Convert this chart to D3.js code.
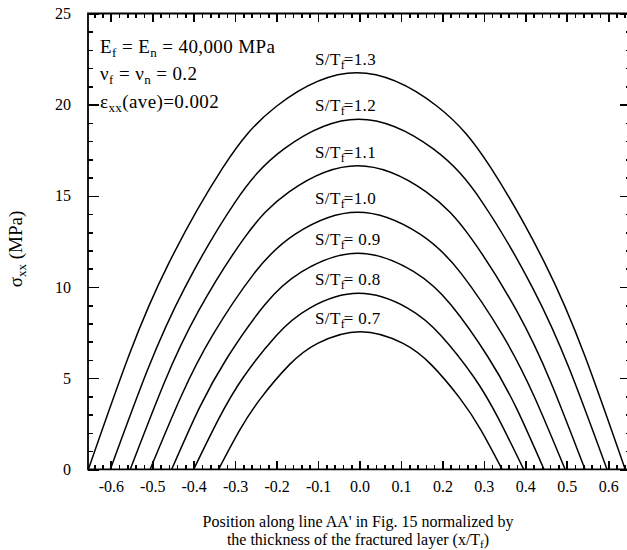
<!DOCTYPE html>
<html>
<head>
<meta charset="utf-8">
<script src="https://cdn.jsdelivr.net/npm/d3@7"></script>
<style>
  html, body { margin: 0; padding: 0; background: #fff; }
  svg { display: block; font-family: "Liberation Serif", "DejaVu Serif", serif; }
</style>
</head>
<body>
<svg id="chart" width="627" height="550"></svg>
<script>
// Stress profiles sigma_xx along line AA' for several crack spacings S/Tf
const spacingLabels = ["1.3", "1.2", "1.1", "1.0", " 0.9", " 0.8", " 0.7"];

// [x/Tf, sigma_xx (MPa)] pairs per spacing ratio
const profile13 = [[-0.654, 0], [-0.557, 6.20], [-0.460, 11.31], [-0.330, 16.53], [-0.201, 19.90], [-0.0065, 21.75], [0.188, 19.90], [0.317, 16.53], [0.447, 11.31], [0.544, 6.20], [0.641, 0]];
const profile12 = [[-0.601, 0], [-0.511, 5.47], [-0.421, 9.98], [-0.302, 14.59], [-0.182, 17.57], [-0.002, 19.20], [0.178, 17.57], [0.298, 14.59], [0.417, 9.98], [0.507, 5.47], [0.597, 0]];
const profile11 = [[-0.553, 0], [-0.471, 4.75], [-0.389, 8.66], [-0.279, 12.65], [-0.169, 15.23], [-0.0045, 16.65], [0.160, 15.23], [0.270, 12.65], [0.380, 8.66], [0.462, 4.75], [0.544, 0]];
const profile10 = [[-0.505, 0], [-0.430, 4.02], [-0.355, 7.33], [-0.255, 10.72], [-0.155, 12.90], [-0.0045, 14.10], [0.146, 12.90], [0.246, 10.72], [0.346, 7.33], [0.421, 4.02], [0.496, 0]];
const profile09 = [[-0.453, 0], [-0.386, 3.38], [-0.318, 6.16], [-0.229, 9.01], [-0.139, 10.84], [-0.004, 11.85], [0.131, 10.84], [0.221, 9.01], [0.310, 6.16], [0.378, 3.38], [0.445, 0]];
const profile08 = [[-0.400, 0], [-0.340, 2.75], [-0.281, 5.02], [-0.201, 7.33], [-0.121, 8.83], [-0.002, 9.65], [0.117, 8.83], [0.197, 7.33], [0.277, 5.02], [0.336, 2.75], [0.396, 0]];
const profile07 = [[-0.340, 0], [-0.289, 2.15], [-0.237, 3.93], [-0.169, 5.74], [-0.101, 6.91], [0.002, 7.55], [0.105, 6.91], [0.173, 5.74], [0.241, 3.93], [0.293, 2.15], [0.344, 0]];
const profiles = [profile13, profile12, profile11, profile10, profile09, profile08, profile07];

const xTickValues = [-0.6, -0.5, -0.4, -0.3, -0.2, -0.1, 0.0, 0.1, 0.2, 0.3, 0.4, 0.5, 0.6];
const yTickValues = [0, 5, 10, 15, 20, 25];

const svg = d3.select("#chart");
const plotLeft = 88, plotRight = 631, plotTop = 13.5, plotBottom = 469.3;

const x = d3.scaleLinear().domain([-0.655, 0.655]).range([plotLeft, plotRight]);
const y = d3.scaleLinear().domain([0, 25]).range([plotBottom, plotTop]);

const xMinor = d3.range(-64, 65, 2).filter(v => v % 10 !== 0).map(v => v / 100);
const yMinor = d3.range(0, 26, 1).filter(v => v % 5 !== 0);

// plot frame
svg.append("path")
  .attr("d", `M${plotLeft},${plotTop}H${plotRight}V${plotBottom}H${plotLeft}Z`)
  .attr("fill", "none")
  .attr("stroke", "#000")
  .attr("stroke-width", 1.8);

// axes: inward ticks on all four sides, labels on bottom and left
function styleAxis(g) {
  g.select(".domain").remove();
  g.selectAll(".tick line")
    .attr("stroke", "#000")
    .attr("stroke-width", 1.6)
    .attr("shape-rendering", "crispEdges");
  g.selectAll("text").attr("font-size", 16).attr("fill", "#000")
    .attr("font-family", "Liberation Serif");
}
function placeAxis(axis, tx, ty) {
  svg.append("g").attr("transform", `translate(${tx},${ty})`).call(axis).call(styleAxis);
}
const fmtX = d => d3.format(".1f")(d).replace("\u2212", "-");
placeAxis(d3.axisBottom(x).tickValues(xTickValues).tickSizeInner(-8).tickSizeOuter(0).tickPadding(11).tickFormat(fmtX), 0, plotBottom);
placeAxis(d3.axisBottom(x).tickValues(xMinor).tickSizeInner(-4.5).tickSizeOuter(0).tickFormat(""), 0, plotBottom);
placeAxis(d3.axisTop(x).tickValues(xTickValues).tickSizeInner(-8).tickSizeOuter(0).tickFormat(""), 0, plotTop);
placeAxis(d3.axisTop(x).tickValues(xMinor).tickSizeInner(-4.5).tickSizeOuter(0).tickFormat(""), 0, plotTop);
placeAxis(d3.axisLeft(y).tickValues(yTickValues).tickSizeInner(-11).tickSizeOuter(0).tickPadding(17), plotLeft, 0);
placeAxis(d3.axisLeft(y).tickValues(yMinor).tickSizeInner(-5).tickSizeOuter(0).tickFormat(""), plotLeft, 0);
placeAxis(d3.axisRight(y).tickValues(yTickValues).tickSizeInner(-11).tickSizeOuter(0).tickFormat(""), plotRight, 0);
placeAxis(d3.axisRight(y).tickValues(yMinor).tickSizeInner(-5).tickSizeOuter(0).tickFormat(""), plotRight, 0);

// profiles
const profileLine = d3.line()
  .x(d => x(d[0]))
  .y(d => y(d[1]))
  .curve(d3.curveNatural);

svg.append("g")
  .selectAll("path")
  .data(profiles)
  .join("path")
  .attr("d", profileLine)
  .attr("fill", "none")
  .attr("stroke", "#000")
  .attr("stroke-width", 1.5);

// spacing labels above each peak
const labels = svg.append("g").attr("font-size", 17).attr("letter-spacing", 0.4).attr("fill", "#000");
profiles.forEach((p, i) => {
  const peak = d3.max(p, d => d[1]);
  const t = labels.append("text")
    .attr("x", 315)
    .attr("y", y(peak) - 8);
  t.append("tspan").text("S/T");
  t.append("tspan").attr("font-size", 12).attr("dy", 4).text("f");
  t.append("tspan").attr("dy", -4).attr("dx", -1.5).text("=" + spacingLabels[i]);
});

// material parameters
const notes = svg.append("g").attr("font-size", 19).attr("letter-spacing", 0.4).attr("fill", "#000");
function withSub(textEl, main, s) {
  textEl.append("tspan").text(main);
  textEl.append("tspan").attr("font-size", 13).attr("dy", 4).text(s);
  return textEl;
}
{
  const t = notes.append("text").attr("x", 100).attr("y", 53);
  withSub(t, "E", "f");
  t.append("tspan").attr("dy", -4).text(" = E");
  t.append("tspan").attr("font-size", 13).attr("dy", 4).text("n");
  t.append("tspan").attr("dy", -4).text(" = 40,000 MPa");
}
{
  const t = notes.append("text").attr("x", 100).attr("y", 80);
  withSub(t, "\u03bd", "f");
  t.append("tspan").attr("dy", -4).text(" = \u03bd");
  t.append("tspan").attr("font-size", 13).attr("dy", 4).text("n");
  t.append("tspan").attr("dy", -4).text(" = 0.2");
}
{
  const t = notes.append("text").attr("x", 100).attr("y", 108);
  withSub(t, "\u03b5", "xx");
  t.append("tspan").attr("dy", -4).text("(ave)=0.002");
}

// y-axis title
{
  const t = svg.append("text")
    .attr("transform", "translate(22,249) rotate(-90)")
    .attr("text-anchor", "middle")
    .attr("font-size", 19).attr("fill", "#000");
  t.append("tspan").text("\u03c3");
  t.append("tspan").attr("font-size", 13).attr("dy", 4).text("xx");
  t.append("tspan").attr("dy", -4).text(" (MPa)");
}

// x-axis title
{
  const g = svg.append("g").attr("font-size", 16).attr("fill", "#000").attr("text-anchor", "middle");
  g.append("text").attr("x", 358).attr("y", 527)
    .text("Position along line AA' in Fig. 15 normalized by");
  const t = g.append("text").attr("x", 358).attr("y", 545);
  t.append("tspan").text("the thickness of the fractured layer (x/T");
  t.append("tspan").attr("font-size", 11).attr("dy", 3).text("f");
  t.append("tspan").attr("dy", -3).text(")");
}
</script>
</body>
</html>
